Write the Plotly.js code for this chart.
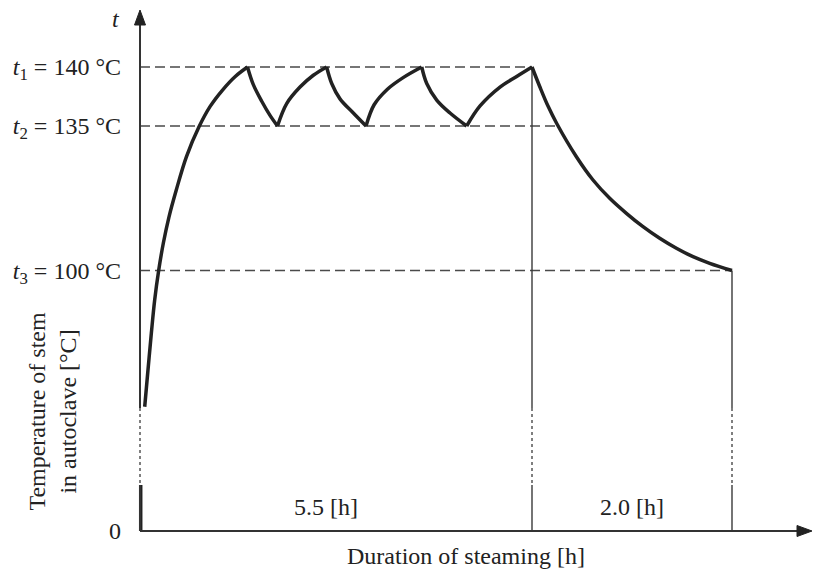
<!DOCTYPE html>
<html><head><meta charset="utf-8">
<script src="https://cdn.plot.ly/plotly-3.0.1.min.js"></script>
<style>html,body{margin:0;padding:0;background:#fff}#chart{width:814px;height:571px}</style>
</head><body><div id="chart"></div>
<script>
// ---- data (hours, °C) read from the schematic ----
const levelTemps  = [140, 135, 100];
const levelLabels = ['<i>t</i><sub>1</sub> = 140 °C', '<i>t</i><sub>2</sub> = 135 °C', '<i>t</i><sub>3</sub> = 100 °C'];
const levelEndHours = [5.5, 5.75, 7.5];
const phaseBounds = [0, 5.5, 7.5];
const phaseLabels = ['5.5 [h]', '2.0 [h]'];
const breakTemps  = [17.66, 47.2];   // broken part of the temperature axis

// start of heating (below the axis break)
const stubHours = [0.01, 0.01];
const stubTemps = [0, 17.66];
// heating up to t1
const heatHours = [0.066, 0.112, 0.159, 0.206, 0.262, 0.327, 0.407, 0.509, 0.652, 0.828, 0.982, 1.158, 1.333, 1.508];
const heatTemps = [47.7, 61.8, 75.9, 88.7, 100, 106.6, 113.0, 119.5, 127.6, 134.8, 136.64, 138.05, 139.18, 140];
// holding between t2 and t1
const holdHours = [1.508, 1.590, 1.708, 1.824, 1.929, 2.058, 2.245, 2.432, 2.619, 2.690, 2.806, 2.993, 3.171, 3.285, 3.468, 3.692, 3.953, 4.023, 4.163, 4.350, 4.584, 4.771, 5.051, 5.285, 5.5];
const holdTemps = [140, 138.5, 137.1, 135.9, 135, 136.9, 138.3, 139.3, 140, 138.6, 137.3, 136.1, 135, 136.8, 138.1, 139.1, 140, 138.6, 137.2, 136.1, 135, 136.7, 138.3, 139.2, 140];
// cooling down to t3
const coolHours = [5.5, 5.577, 5.66, 5.75, 5.944, 6.11, 6.277, 6.444, 6.61, 6.777, 6.944, 7.11, 7.277, 7.5];
const coolTemps = [140, 138.35, 136.69, 135.17, 127.56, 121.92, 117.49, 113.85, 110.61, 107.80, 105.38, 103.34, 101.74, 100];

// ---- schematic (non-linear) axis scales ----
function xMap(h){ return h === null ? null : (h <= 5.5 ? h*392/5.5 : 392 + (h-5.5)*100); }
const yAnchorT = [0, 100, 135, 140], yAnchorD = [0, 260.5, 405, 464];
function yMap(t){
  if (t === null) return null;
  for (let i = 1; i < yAnchorT.length; i++) {
    if (t <= yAnchorT[i] || i === yAnchorT.length - 1) {
      const f = (t - yAnchorT[i-1]) / (yAnchorT[i] - yAnchorT[i-1]);
      return yAnchorD[i-1] + f * (yAnchorD[i] - yAnchorD[i-1]);
    }
  }
}

// curve split into monotonic runs so the cusps stay sharp
const allH = heatHours.concat(holdHours.slice(1), coolHours.slice(1));
const allT = heatTemps.concat(holdTemps.slice(1), coolTemps.slice(1));
const cx = [], cy = [];
let dir = 0;
for (let i = 0; i < allH.length; i++) {
  if (i > 0) {
    const d = Math.sign(allT[i] - allT[i-1]);
    if (dir !== 0 && d !== 0 && d !== dir) { cx.push(null); cy.push(null); cx.push(xMap(allH[i-1])); cy.push(yMap(allT[i-1])); }
    if (d !== 0) dir = d;
  }
  cx.push(xMap(allH[i])); cy.push(yMap(allT[i]));
}

const INK = '#222', THIN = '#3a3a3a', DASH = '#4a4a4a';
const traces = [];
// dashed level lines
const lx = [], ly = [];
levelTemps.forEach((t, i) => { lx.push(xMap(0), xMap(levelEndHours[i]), null); ly.push(yMap(t), yMap(t), null); });
traces.push({x: lx, y: ly, mode: 'lines', line: {color: DASH, width: 1.6, dash: '10px,5px'}, hoverinfo: 'skip', showlegend: false});
// vertical phase boundaries (solid parts)
const vx = [], vy = [], dx = [], dy = [];
[[phaseBounds[1], levelTemps[0]], [phaseBounds[2], levelTemps[2]]].forEach(([h, t]) => {
  vx.push(xMap(h), xMap(h), null, xMap(h), xMap(h), null);
  vy.push(yMap(t), yMap(breakTemps[1]), null, yMap(breakTemps[0]), yMap(0), null);
});
traces.push({x: vx, y: vy, mode: 'lines', line: {color: THIN, width: 1.4}, hoverinfo: 'skip', showlegend: false});
// dotted break segments (axis + boundaries)
phaseBounds.forEach(h => { dx.push(xMap(h), xMap(h), null); dy.push(yMap(breakTemps[1]), yMap(breakTemps[0]), null); });
traces.push({x: dx, y: dy, mode: 'lines', line: {color: '#555', width: 1.5, dash: 'dot'}, hoverinfo: 'skip', showlegend: false});
// temperature curve
traces.push({x: stubHours.map(xMap), y: stubTemps.map(yMap), mode: 'lines', line: {color: INK, width: 3.5}, hoverinfo: 'skip', showlegend: false});
traces.push({x: cx, y: cy, mode: 'lines', connectgaps: false, line: {color: INK, width: 3.5, shape: 'spline', smoothing: 1}, hoverinfo: 'skip', showlegend: false});

const xEnd = 672, yEnd = 521;
const serif = 'Liberation Serif, Times New Roman, serif';
const shapes = [
  {type: 'line', xref: 'x', yref: 'y', x0: 0, y0: 0, x1: xEnd - 12, y1: 0, line: {color: '#333', width: 2}},
  {type: 'path', xref: 'x', yref: 'y', path: `M ${xEnd} 0 L ${xEnd-15} 5.5 L ${xEnd-15} -5.5 Z`, fillcolor: '#222', line: {color: '#222', width: 1}},
  {type: 'line', xref: 'x', yref: 'y', x0: 0, y0: yMap(breakTemps[1]), x1: 0, y1: yEnd - 12, line: {color: '#333', width: 2}},
  {type: 'line', xref: 'x', yref: 'y', x0: 0, y0: 0, x1: 0, y1: yMap(breakTemps[0]), line: {color: '#333', width: 2}},
  {type: 'path', xref: 'x', yref: 'y', path: `M 0 ${yEnd} L -5.5 ${yEnd-15} L 5.5 ${yEnd-15} Z`, fillcolor: '#222', line: {color: '#222', width: 1}}
];

const FS = 24;
const annotations = [
  {x: (xMap(phaseBounds[0]) + xMap(phaseBounds[1]))/2, y: 24, xref: 'x', yref: 'y', text: phaseLabels[0], showarrow: false, xshift: -10, font: {family: serif, size: FS, color: INK}},
  {x: (xMap(phaseBounds[1]) + xMap(phaseBounds[2]))/2, y: 24, xref: 'x', yref: 'y', text: phaseLabels[1], showarrow: false, font: {family: serif, size: FS, color: INK}},
  {x: -0.0205, y: 0.981, xref: 'paper', yref: 'paper', xanchor: 'center', yanchor: 'middle', text: '<i>t</i>', showarrow: false, font: {family: serif, size: FS, color: INK}},
  {x: -0.113, y: 0.245, xref: 'paper', yref: 'paper', xanchor: 'center', yanchor: 'middle', text: 'Temperature of stem<br>in autoclave [°C]', textangle: -90, showarrow: false, font: {family: serif, size: FS, color: INK}},
  {x: 0.4927, y: -0.028, xref: 'paper', yref: 'paper', xanchor: 'center', yanchor: 'middle', text: 'Duration of steaming [h]', showarrow: false, font: {family: serif, size: FS, color: INK}}
];

const layout = {
  width: 814, height: 571,
  margin: {l: 130, r: 2, t: 9, b: 30},
  paper_bgcolor: '#fff', plot_bgcolor: '#fff',
  showlegend: false,
  xaxis: {range: [-10, xEnd], showgrid: false, zeroline: false, showline: false, showticklabels: false, ticks: '', fixedrange: true},
  yaxis: {range: [-10, yEnd + 1], showgrid: false, zeroline: false, showline: false, ticks: '',
          tickvals: [0].concat(levelTemps.map(yMap)), ticktext: ['0'].concat(levelLabels),
          ticklabelstandoff: 8, tickfont: {family: serif, size: FS, color: INK}, automargin: false, fixedrange: true},
  shapes: shapes,
  annotations: annotations
};
Plotly.newPlot('chart', traces, layout, {staticPlot: true, displayModeBar: false});
</script></body></html>
